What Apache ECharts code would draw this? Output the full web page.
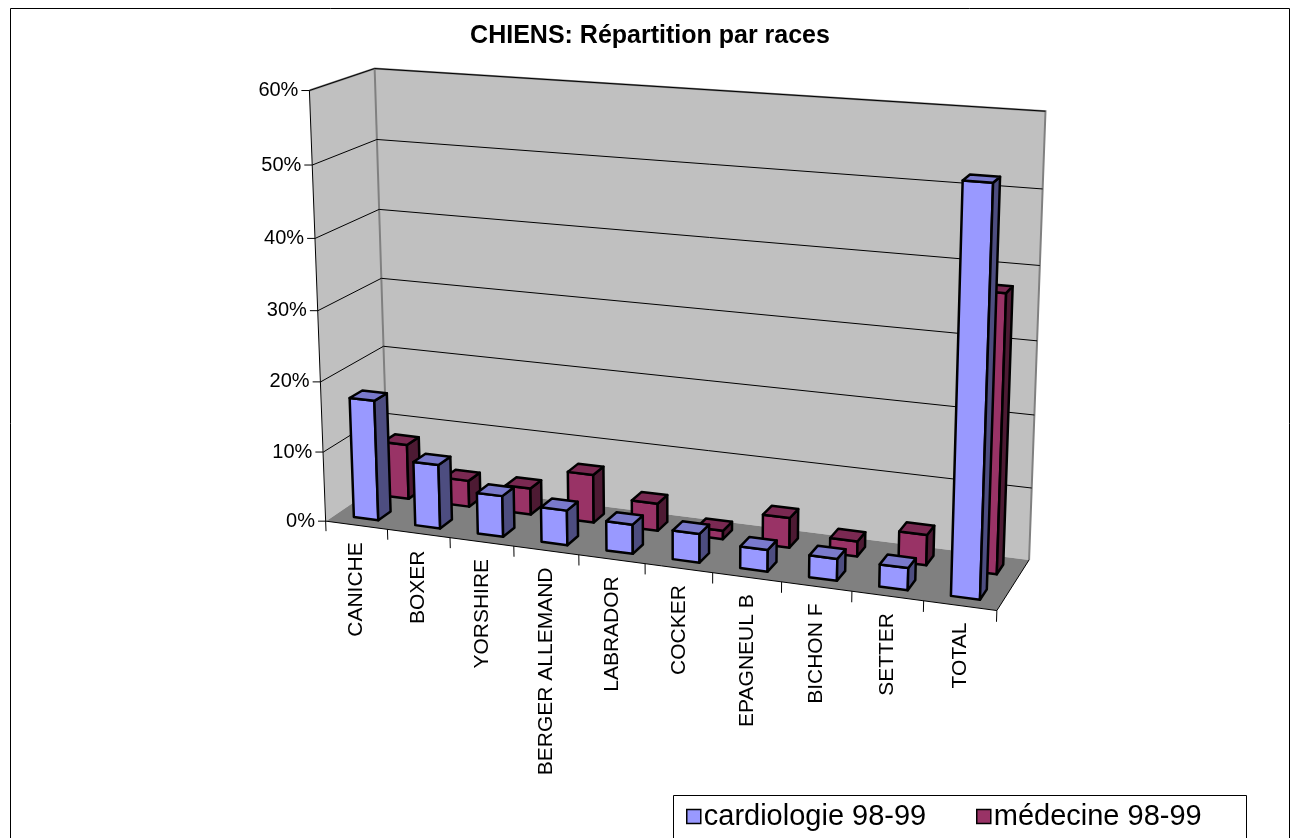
<!DOCTYPE html>
<html>
<head>
<meta charset="utf-8">
<script src="https://cdn.jsdelivr.net/npm/echarts@6/dist/echarts.min.js"></script>
<style>html,body{margin:0;padding:0;background:#fff;}</style>
</head>
<body>
<div id="main" style="width:1300px;height:838px;"></div>
<script type="text/javascript">
// data
var races = ['CANICHE', 'BOXER', 'YORSHIRE', 'BERGER ALLEMAND', 'LABRADOR', 'COCKER', 'EPAGNEUL B', 'BICHON F', 'SETTER', 'TOTAL'];
var cardiologie = [0.172, 0.091, 0.058, 0.049, 0.041, 0.040, 0.030, 0.030, 0.030, 0.538];
var medecine = [0.080, 0.038, 0.038, 0.069, 0.039, 0.012, 0.042, 0.021, 0.042, 0.377];
var yTicks = [0, 0.1, 0.2, 0.3, 0.4, 0.5, 0.6];

var FONT = '"Liberation Sans", Arial, sans-serif';

// where the corners of the 3d box land on screen: [u, v, w, x, y]
// u = along categories, v = value (0..60%), w = depth (0 front, 1 back)
var calib = [
    [0, 0, 0, 326, 521], [0, 1, 0, 309, 91], [0, 1, 1, 374, 68], [0, 0, 1, 388, 481],
    [1, 1, 1, 1045, 112], [1, 0, 1, 1028, 560], [1, 0, 0, 997, 611],
    [0, 5/6, 0, 313, 165], [0, 5/6, 1, 377, 140], [0, 1/6, 0, 323, 451], [0, 1/6, 1, 386, 412],
    [1, 5/6, 1, 1043, 189], [1, 4/6, 1, 1040, 265], [1, 3/6, 1, 1038, 340],
    [0.2, 0, 0, 450, 538], [0.5, 0, 0, 645, 564], [0.8, 0, 0, 852, 591]
];

// least squares perspective fit (DLT)
function fitCamera(pts) {
    var A = [], b = [];
    pts.forEach(function (p) {
        var u = p[0], v = p[1], w = p[2], X = p[3] / 1000, Y = p[4] / 1000;
        A.push([u, v, w, 1, 0, 0, 0, 0, -X * u, -X * v, -X * w]); b.push(X);
        A.push([0, 0, 0, 0, u, v, w, 1, -Y * u, -Y * v, -Y * w]); b.push(Y);
    });
    var n = 11, M = [];
    for (var i = 0; i < n; i++) {
        M[i] = [];
        for (var j = 0; j <= n; j++) {
            var s = 0;
            for (var k = 0; k < A.length; k++) s += A[k][i] * (j < n ? A[k][j] : b[k]);
            M[i][j] = s;
        }
    }
    for (var c = 0; c < n; c++) {
        var piv = c;
        for (var r = c + 1; r < n; r++) if (Math.abs(M[r][c]) > Math.abs(M[piv][c])) piv = r;
        var t = M[c]; M[c] = M[piv]; M[piv] = t;
        for (var r2 = 0; r2 < n; r2++) {
            if (r2 === c) continue;
            var f = M[r2][c] / M[c][c];
            for (var j2 = c; j2 <= n; j2++) M[r2][j2] -= f * M[c][j2];
        }
    }
    return M.map(function (row, i) { return row[n] / row[i]; });
}
var P = fitCamera(calib);
function proj(u, v, w) {
    var d = P[8] * u + P[9] * v + P[10] * w + 1;
    return [(P[0] * u + P[1] * v + P[2] * w + P[3]) / d * 1000,
            (P[4] * u + P[5] * v + P[6] * w + P[7]) / d * 1000];
}
function projAll(list) {
    return list.map(function (p) { return proj(p[0], p[1], p[2]); });
}

// value/category -> u,v through the (hidden) cartesian axes
function toUV(params, api, cat, val) {
    var cs = params.coordSys;
    var pt = api.coord([cat, val]);
    return [(pt[0] - cs.x) / cs.width, (cs.y + cs.height - pt[1]) / cs.height];
}

function renderWalls(params, api) {
    var FLB = proj(0, 0, 0), FLT = proj(0, 1, 0), BLT = proj(0, 1, 1), BLB = proj(0, 0, 1);
    var BRT = proj(1, 1, 1), BRB = proj(1, 0, 1), FRB = proj(1, 0, 0);
    var edge = { stroke: '#808080', lineWidth: 2, fill: null };
    return {
        type: 'group',
        children: [
            { type: 'polygon', shape: { points: [FLB, FLT, BLT, BLB] }, style: { fill: '#c0c0c0' } },
            { type: 'polygon', shape: { points: [BLB, BLT, BRT, BRB] }, style: { fill: '#c0c0c0' } },
            { type: 'polygon', shape: { points: [FLB, BLB, BRB, FRB] }, style: { fill: '#808080' } },
            { type: 'polyline', shape: { points: [FLT, BLT, BRT, BRB] }, style: edge },
            { type: 'line', shape: { x1: BLT[0], y1: BLT[1], x2: BLB[0], y2: BLB[1] }, style: edge },
            { type: 'polyline', shape: { points: [FLB, FRB, BRB] }, style: { stroke: '#000', lineWidth: 1, fill: null } },
            { type: 'line', shape: { x1: FLT[0], y1: FLT[1], x2: FLB[0], y2: FLB[1] + 10 }, style: { stroke: '#000', lineWidth: 1 } }
        ]
    };
}

function renderValueAxis(params, api) {
    var v = toUV(params, api, 0, api.value(1))[1];
    var a = proj(0, v, 0), b = proj(0, v, 1), c = proj(1, v, 1);
    var kids = [
        { type: 'line', shape: { x1: a[0] - 8, y1: a[1], x2: a[0], y2: a[1] }, style: { stroke: '#000', lineWidth: 1 } },
        { type: 'text', x: a[0] - 11, y: a[1],
          style: { text: Math.round(api.value(1) * 100) + '%', align: 'right', verticalAlign: 'middle', font: '20px ' + FONT, fill: '#000' } }
    ];
    if (v > 0) {
        kids.push({ type: 'polyline', shape: { points: [a, b, c] }, style: { stroke: '#000', lineWidth: 1, fill: null } });
    }
    return { type: 'group', children: kids };
}

function renderCategoryAxis(params, api) {
    var i = api.value(0);
    var cs = params.coordSys;
    var band = api.size([1, 0])[0] / cs.width;
    var uc = toUV(params, api, i, 0)[0];
    var ur = uc + band / 2;
    var t0 = proj(ur, 0, 0), t1 = proj(ur, -0.025, 0);
    var lab = proj(uc, 0, 0);
    return {
        type: 'group',
        children: [
            { type: 'line', shape: { x1: t0[0], y1: t0[1], x2: t1[0], y2: t1[1] }, style: { stroke: '#000', lineWidth: 1 } },
            { type: 'text', x: lab[0], y: lab[1] + 17, rotation: Math.PI / 2,
              style: { text: races[i], align: 'right', verticalAlign: 'middle', font: '21px ' + FONT, fill: '#000' } }
        ]
    };
}

function barRenderer(row, colors) {
    return function (params, api) {
        var cs = params.coordSys;
        var band = api.size([1, 0])[0] / cs.width;
        var top = toUV(params, api, api.value(0), api.value(1));
        var base = toUV(params, api, api.value(0), 0);
        var u0 = top[0] - band * 0.2, u1 = top[0] + band * 0.2;
        var w0 = row * 0.5 + 0.15, w1 = w0 + 0.2;
        var v0 = base[1], v1 = top[1];
        function face(pts, fill) {
            return { type: 'polygon', shape: { points: projAll(pts) },
                     style: { fill: fill, stroke: '#000', lineWidth: 2.5, lineJoin: 'round' } };
        }
        return {
            type: 'group',
            children: [
                face([[u0, v0, w0], [u1, v0, w0], [u1, v1, w0], [u0, v1, w0]], colors[0]),
                face([[u1, v0, w0], [u1, v0, w1], [u1, v1, w1], [u1, v1, w0]], colors[1]),
                face([[u0, v1, w0], [u1, v1, w0], [u1, v1, w1], [u0, v1, w1]], colors[2])
            ]
        };
    };
}

var myChart = echarts.init(document.getElementById('main'));
var option = {
    animation: false,
    backgroundColor: '#fff',
    title: {
        text: 'CHIENS: Répartition par races',
        left: 'center', top: 19,
        textStyle: { fontFamily: FONT, fontSize: 25, fontWeight: 'bold', color: '#000' }
    },
    graphic: [
        { type: 'rect', shape: { x: 10.5, y: 8.5, width: 1279, height: 860 }, style: { fill: null, stroke: '#000', lineWidth: 1 }, z: 0 },
        { type: 'rect', shape: { x: 673.5, y: 795.5, width: 573, height: 80 }, style: { fill: '#fff', stroke: '#000', lineWidth: 1 }, z: 0 }
    ],
    legend: [
        { data: [{ name: 'cardiologie 98-99', itemStyle: { color: '#9999ff', borderColor: '#000', borderWidth: 1.5 } }],
          left: 686, top: 802, icon: 'rect', itemWidth: 14, itemHeight: 14, itemGap: 4, padding: 0,
          textStyle: { fontFamily: FONT, fontSize: 29, color: '#000', padding: [0, 0, 0, -2] } },
        { data: [{ name: 'médecine 98-99', itemStyle: { color: '#993366', borderColor: '#000', borderWidth: 1.5 } }],
          left: 976, top: 802, icon: 'rect', itemWidth: 14, itemHeight: 14, itemGap: 4, padding: 0,
          textStyle: { fontFamily: FONT, fontSize: 29, color: '#000', padding: [0, 0, 0, -2] } }
    ],
    grid: { left: 100, top: 100, width: 1000, height: 600, show: false },
    xAxis: { type: 'category', data: races, show: false },
    yAxis: { type: 'value', min: 0, max: 0.6, interval: 0.1, show: false },
    series: [
        { type: 'custom', name: 'walls', z: 1, silent: true, data: [[0, 0]], renderItem: renderWalls },
        { type: 'custom', name: 'valueAxis', z: 2, silent: true,
          data: yTicks.map(function (t) { return [0, t]; }), renderItem: renderValueAxis },
        { type: 'custom', name: 'categoryAxis', z: 2, silent: true,
          data: races.map(function (r, i) { return [i, 0]; }), renderItem: renderCategoryAxis },
        { type: 'custom', name: 'médecine 98-99', z: 3, itemStyle: { color: '#993366' },
          data: medecine.map(function (v, i) { return [i, v]; }),
          renderItem: barRenderer(1, ['#993366', '#4d1a33', '#7a2952']) },
        { type: 'custom', name: 'cardiologie 98-99', z: 4, itemStyle: { color: '#9999ff' },
          data: cardiologie.map(function (v, i) { return [i, v]; }),
          renderItem: barRenderer(0, ['#9999ff', '#4d4d80', '#7a7acc']) }
    ]
};
myChart.setOption(option);
</script>
</body>
</html>
